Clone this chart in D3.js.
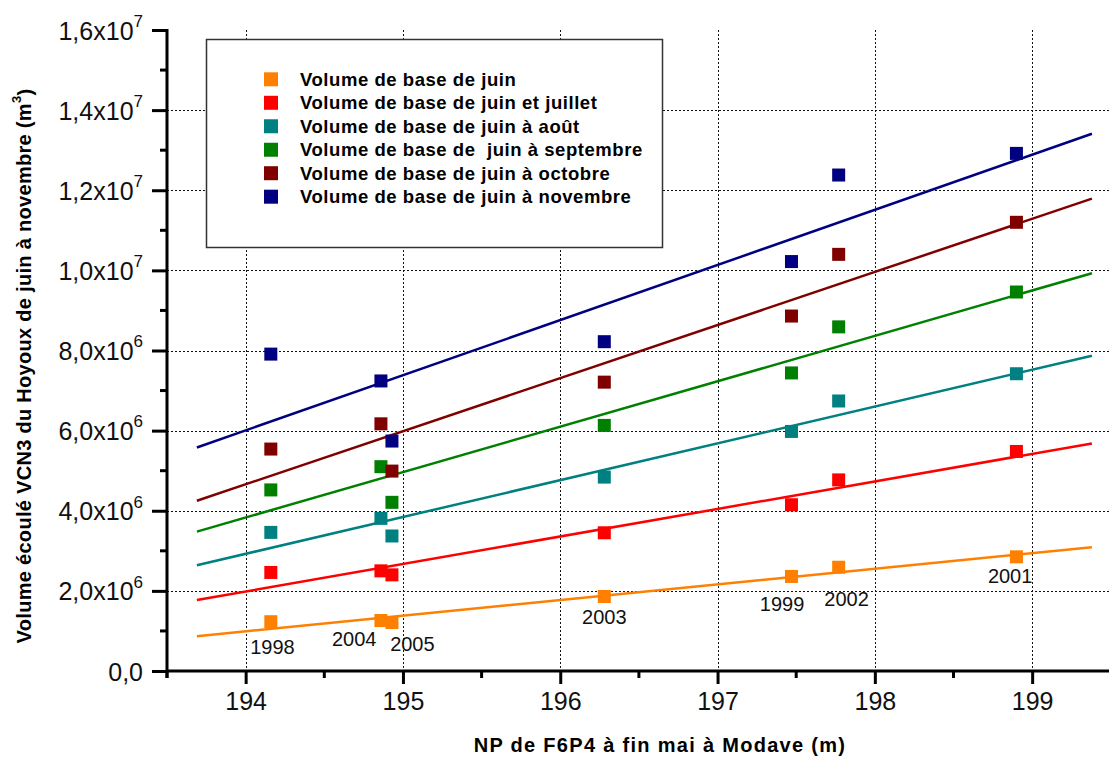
<!DOCTYPE html>
<html><head><meta charset="utf-8">
<script src="https://cdn.jsdelivr.net/npm/d3@7"></script>
<style>
body{margin:0;background:#fff;}
svg{display:block;font-family:Arial,"Liberation Sans",sans-serif;}
</style></head>
<body>
<svg id="c" width="1109" height="758"></svg>
<script>
// ---------- data ----------
const years = ["1998","2004","2005","2003","1999","2002","2001"];
const npValues = [194.16, 194.86, 194.93, 196.28, 197.47, 197.77, 198.90];
const seriesNames = [
  "Volume de base de juin",
  "Volume de base de juin et juillet",
  "Volume de base de juin à août",
  "Volume de base de  juin à septembre",
  "Volume de base de juin à octobre",
  "Volume de base de juin à novembre"
];
const seriesColors = ["#FF8000","#FF0000","#008080","#008000","#800000","#000080"];
const juin      = [1.23e6, 1.26e6, 1.21e6, 1.86e6, 2.36e6, 2.59e6, 2.85e6];
const juinJuil  = [2.46e6, 2.50e6, 2.40e6, 3.45e6, 4.15e6, 4.77e6, 5.48e6];
const juinAout  = [3.46e6, 3.81e6, 3.37e6, 4.84e6, 5.98e6, 6.74e6, 7.42e6];
const juinSept  = [4.52e6, 5.10e6, 4.21e6, 6.13e6, 7.44e6, 8.59e6, 9.46e6];
const juinOct   = [5.54e6, 6.17e6, 4.99e6, 7.21e6, 8.86e6, 10.40e6, 11.20e6];
const juinNov   = [7.91e6, 7.24e6, 5.74e6, 8.22e6, 10.22e6, 12.38e6, 12.92e6];
const seriesValues = [juin, juinJuil, juinAout, juinSept, juinOct, juinNov];
// fitted lines, read at their two ends
const fitX = [193.69, 199.38];
const fitStart = [0.87e6, 1.77e6, 2.64e6, 3.48e6, 4.25e6, 5.58e6];
const fitEnd   = [3.09e6, 5.68e6, 7.87e6, 9.93e6, 11.79e6, 13.41e6];
// year annotations (anchor in data units)
const yearLabelX = [194.17, 194.69, 195.06, 196.28, 197.41, 197.82, 198.86];
const yearLabelY = [0.42e6, 0.62e6, 0.50e6, 1.17e6, 1.51e6, 1.62e6, 2.19e6];
// axes
const xTicks = [194, 195, 196, 197, 198, 199];
const xMinorTicks = [193.5, 194.5, 195.5, 196.5, 197.5, 198.5, 199.5];
const yTicks = [0, 2e6, 4e6, 6e6, 8e6, 1e7, 1.2e7, 1.4e7, 1.6e7];
const yTickMantissa = ["0,0","2,0x10","4,0x10","6,0x10","8,0x10","1,0x10","1,2x10","1,4x10","1,6x10"];
const yTickExponent = ["","6","6","6","6","7","7","7","7"];
const yMinorTicks = [1e6, 3e6, 5e6, 7e6, 9e6, 1.1e7, 1.3e7, 1.5e7];
const xTitle = "NP de F6P4 à fin mai à Modave (m)";
const yTitle = "Volume écoulé VCN3 du Hoyoux de juin à novembre (m";

// ---------- scales ----------
const svg = d3.select("#c");
const x = d3.scaleLinear().domain([193.5, 199.5]).range([167, 1110.8]);
const y = d3.scaleLinear().domain([0, 1.6e7]).range([671, 30]);

// gridlines
const grid = svg.append("g").attr("stroke","#111").attr("stroke-width",1).attr("stroke-dasharray","2,2");
grid.selectAll(".gx").data(xTicks).join("line")
  .attr("x1", d=>Math.round(x(d))+0.5).attr("x2", d=>Math.round(x(d))+0.5)
  .attr("y1", y(1.6e7)).attr("y2", y(0));
grid.selectAll(".gy").data(yTicks.filter(d=>d>0 && d<1.6e7)).join("line")
  .attr("y1", d=>Math.round(y(d))+0.5).attr("y2", d=>Math.round(y(d))+0.5)
  .attr("x1", x(193.5)).attr("x2", 1109);

// legend box (covers grid)
const lg = svg.append("g");
lg.append("rect").attr("x",206.5).attr("y",39.5).attr("width",456).attr("height",208)
  .attr("fill","#fff").attr("stroke","#333").attr("stroke-width",1.5);
seriesNames.forEach((n,i)=>{
  const cy = 79.3 + i*23.48;
  lg.append("rect").attr("x",264).attr("y",cy-7).attr("width",14).attr("height",14).attr("fill",seriesColors[i]);
  lg.append("text").attr("x",300).attr("y",cy+6.5).attr("font-size",18.5).attr("font-weight","bold")
    .attr("letter-spacing","0.55px").style("white-space","pre").attr("fill","#000").text(n);
});

// fit lines
const line = d3.line().x(d=>x(d[0])).y(d=>y(d[1]));
seriesValues.forEach((vals,i)=>{
  svg.append("path").datum([[fitX[0],fitStart[i]],[fitX[1],fitEnd[i]]])
    .attr("d", line).attr("fill","none").attr("stroke",seriesColors[i]).attr("stroke-width",2.5);
});
// markers
seriesValues.forEach((vals,i)=>{
  svg.append("g").selectAll("rect").data(vals).join("rect")
    .attr("x",(d,j)=>x(npValues[j])-6.5).attr("y",d=>y(d)-6.5)
    .attr("width",13).attr("height",13).attr("fill",seriesColors[i]);
});

// year labels
svg.append("g").selectAll("text").data(years).join("text")
  .attr("x",(d,j)=>x(yearLabelX[j])).attr("y",(d,j)=>y(yearLabelY[j]))
  .attr("text-anchor","middle").attr("font-size",20).attr("fill","#111").text(d=>d);

// axes
const xAxis = svg.append("g").attr("transform",`translate(0,${y(0)})`)
  .call(d3.axisBottom(x).tickValues(xTicks).tickSize(13).tickPadding(8).tickFormat(d=>d));
xAxis.select(".domain").attr("d",`M${x(193.5)},0H1109`).attr("stroke","#000").attr("stroke-width",3);
xAxis.selectAll(".tick line").attr("stroke","#000").attr("stroke-width",3);
xAxis.selectAll(".tick text").attr("font-size",25).attr("font-family","Arial,'Liberation Sans',sans-serif").attr("fill","#111");
xAxis.selectAll(".minor").data(xMinorTicks).join("line").attr("class","minor")
  .attr("x1",d=>x(d)).attr("x2",d=>x(d)).attr("y1",0).attr("y2",7).attr("stroke","#000").attr("stroke-width",3);

const yAxis = svg.append("g").attr("transform",`translate(${x(193.5)},0)`)
  .call(d3.axisLeft(y).tickValues(yTicks).tickSize(15).tickPadding(9).tickFormat(""));
yAxis.select(".domain").attr("d",`M0,${y(1.6e7)-1}V${y(0)+7}`).attr("stroke","#000").attr("stroke-width",3);
yAxis.selectAll(".tick line").attr("stroke","#000").attr("stroke-width",3);
yAxis.selectAll(".tick text").each(function(d,i){
  const t = d3.select(this).attr("font-size",25).attr("font-family","Arial,'Liberation Sans',sans-serif")
    .attr("fill","#111").attr("x",-24).attr("dy","0.36em");
  t.text(null);
  t.append("tspan").text(yTickMantissa[i]);
  if (yTickExponent[i]) t.append("tspan").attr("font-size",17).attr("dy","-0.75em").text(yTickExponent[i]);
});
yAxis.selectAll(".minor").data(yMinorTicks).join("line").attr("class","minor")
  .attr("y1",d=>y(d)).attr("y2",d=>y(d)).attr("x1",0).attr("x2",-7).attr("stroke","#000").attr("stroke-width",3);

// titles
svg.append("text").attr("x",660).attr("y",752).attr("text-anchor","middle")
  .attr("font-size",20).attr("font-weight","bold").attr("letter-spacing","1.3px").attr("fill","#000").text(xTitle);
const yt = svg.append("text").attr("transform","translate(31,366) rotate(-90)").attr("text-anchor","middle")
  .attr("font-size",20).attr("font-weight","bold").attr("letter-spacing","0.3px").attr("fill","#000");
yt.append("tspan").text(yTitle);
yt.append("tspan").attr("font-size",13).attr("dy","-0.8em").text("3");
yt.append("tspan").attr("dy","0.55em").text(")");
</script>
</body></html>
